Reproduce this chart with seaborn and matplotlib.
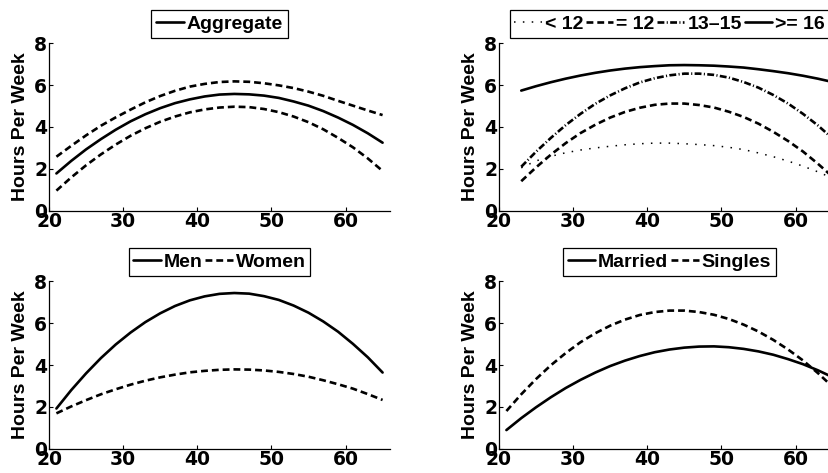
import matplotlib
matplotlib.use("Agg")
import matplotlib.pyplot as plt
from matplotlib.lines import Line2D
import pandas as pd
import seaborn as sns

# ---------------- data ----------------
ages = [21, 23, 25, 27, 29, 31, 33, 35, 37, 39, 41, 43,
        45, 47, 49, 51, 53, 55, 57, 59, 61, 63, 65]
ages_edu = [23, 25, 27, 29, 31, 33, 35, 37, 39, 41, 43,
            45, 47, 49, 51, 53, 55, 57, 59, 61, 63, 65]

aggregate = [1.78, 2.38, 2.93, 3.42, 3.87, 4.27, 4.61, 4.90, 5.14, 5.32, 5.46, 5.55,
             5.58, 5.56, 5.50, 5.39, 5.22, 5.02, 4.76, 4.45, 4.10, 3.70, 3.25]
aggregate_hi = [2.58, 3.10, 3.60, 4.06, 4.46, 4.83, 5.18, 5.48, 5.73, 5.93, 6.06, 6.15,
                6.18, 6.16, 6.09, 5.99, 5.86, 5.69, 5.49, 5.25, 5.02, 4.79, 4.57]
aggregate_lo = [0.96, 1.59, 2.17, 2.69, 3.16, 3.58, 3.94, 4.25, 4.50, 4.70, 4.84, 4.93,
                4.97, 4.95, 4.86, 4.71, 4.50, 4.23, 3.89, 3.48, 3.03, 2.50, 1.90]

edu_lt12 = [2.05, 2.38, 2.60, 2.77, 2.90, 3.00, 3.08, 3.15, 3.20, 3.23, 3.23,
            3.20, 3.16, 3.11, 3.03, 2.92, 2.76, 2.58, 2.37, 2.13, 1.86, 1.55]
edu_eq12 = [1.41, 2.07, 2.68, 3.23, 3.71, 4.11, 4.45, 4.72, 4.92, 5.06, 5.12,
            5.12, 5.05, 4.93, 4.73, 4.48, 4.16, 3.77, 3.33, 2.83, 2.25, 1.62]
edu_13_15 = [2.10, 2.82, 3.48, 4.09, 4.63, 5.11, 5.51, 5.85, 6.13, 6.33, 6.47,
             6.55, 6.55, 6.49, 6.36, 6.15, 5.88, 5.53, 5.12, 4.63, 4.08, 3.45]
edu_ge16 = [5.74, 5.95, 6.14, 6.31, 6.46, 6.59, 6.70, 6.79, 6.86, 6.91, 6.95,
            6.96, 6.95, 6.93, 6.89, 6.84, 6.76, 6.67, 6.57, 6.45, 6.31, 6.15]

men = [1.92, 2.80, 3.60, 4.33, 4.98, 5.55, 6.05, 6.47, 6.82, 7.09, 7.28, 7.40,
       7.44, 7.41, 7.29, 7.11, 6.84, 6.50, 6.08, 5.59, 5.01, 4.37, 3.64]
women = [1.69, 2.02, 2.32, 2.60, 2.84, 3.06, 3.25, 3.41, 3.54, 3.65, 3.72, 3.77,
         3.79, 3.78, 3.74, 3.67, 3.57, 3.44, 3.27, 3.08, 2.87, 2.61, 2.33]

married = [0.89, 1.46, 1.98, 2.46, 2.90, 3.29, 3.64, 3.95, 4.21, 4.43, 4.61, 4.74,
           4.83, 4.88, 4.89, 4.85, 4.77, 4.65, 4.49, 4.28, 4.04, 3.75, 3.42]
singles = [1.80, 2.60, 3.33, 3.99, 4.57, 5.09, 5.52, 5.88, 6.17, 6.39, 6.53, 6.60,
           6.60, 6.53, 6.40, 6.20, 5.93, 5.60, 5.20, 4.74, 4.22, 3.62, 2.96]

x_ticks = [20, 30, 40, 50, 60]
y_ticks = [0, 2, 4, 6, 8]
y_label = "Hours Per Week"

# ---------------- style ----------------
sns.set_theme(style="ticks")
plt.rcParams["font.family"] = ["Liberation Sans", "DejaVu Sans"]
plt.rcParams["font.weight"] = "bold"
plt.rcParams["axes.labelweight"] = "bold"
for key in ["text.color", "axes.labelcolor", "xtick.color", "ytick.color",
            "xtick.labelcolor", "ytick.labelcolor", "axes.edgecolor"]:
    plt.rcParams[key] = "black"
FS = 14
TICK_FONT = {"family": ["DejaVu Sans"], "size": 13.5, "weight": "bold", "color": "black"}

LW = 1.9
SOLID = ""
DASH = (2.6, 1.5)
DOT = (1.0, 4.8)
DASHDOT = (2.6, 0.9, 0.4, 0.9)

fig = plt.figure(figsize=(8.29, 4.73), dpi=100)

W, H = 341 / 829, 167.4 / 473
pos = {
    "tl": [49 / 829, 1 - 210.7 / 473, W, H],
    "tr": [499 / 829, 1 - 210.7 / 473, W, H],
    "bl": [49 / 829, 1 - 448.7 / 473, W, H],
    "br": [499 / 829, 1 - 448.7 / 473, W, H],
}


def long_df(x, series):
    rows = []
    for name, vals in series.items():
        for a, v in zip(x, vals):
            rows.append({"age": a, "hours": v, "group": name})
    return pd.DataFrame(rows)


def style_axes(ax):
    ax.set_xlim(20, 66)
    ax.set_ylim(0, 8)
    ax.set_xticks(x_ticks)
    ax.set_yticks(y_ticks)
    ax.set_xticklabels([str(t) for t in x_ticks], fontdict=TICK_FONT)
    ax.set_yticklabels([str(t) for t in y_ticks], fontdict=TICK_FONT)
    ax.set_xlabel("")
    ax.set_ylabel(y_label, fontsize=FS, fontweight="bold", labelpad=4, color="black")
    for s in ["top", "right"]:
        ax.spines[s].set_visible(False)
    for s in ["left", "bottom"]:
        ax.spines[s].set_linewidth(0.9)
        ax.spines[s].set_color("black")
    ax.tick_params(direction="in", length=3.2, width=0.8, pad=1.2, colors="black")
    ax.set_facecolor("white")


def add_legend(ax, labels, dashes, widths, ncol):
    handles = []
    for lab in labels:
        d = dashes[lab]
        h = Line2D([0], [0], color="black", linewidth=widths[lab])
        if d != "":
            h.set_dashes(d)
        handles.append(h)
    leg = ax.legend(handles, labels, loc="lower center", bbox_to_anchor=(0.5, 1.033),
                    ncol=ncol, frameon=True, fancybox=False, framealpha=1,
                    edgecolor="black", borderpad=0.25, handlelength=1.4,
                    handletextpad=0.15, columnspacing=0.15, borderaxespad=0,
                    prop={"size": FS, "weight": "bold"})
    leg.get_frame().set_linewidth(0.9)
    for t in leg.get_texts():
        t.set_color("black")
    return leg


def draw(ax, x, series, dashes, widths, legend_labels, ncol):
    df = long_df(x, series)
    sns.lineplot(data=df, x="age", y="hours", style="group", size="group",
                 dashes=dashes, sizes=widths, color="black", ax=ax,
                 legend=False, estimator=None, sort=False)
    style_axes(ax)
    add_legend(ax, legend_labels, dashes, widths, ncol)


# Top-left: aggregate with bands
ax1 = fig.add_axes(pos["tl"])
draw(ax1, ages,
     {"Aggregate": aggregate, "upper": aggregate_hi, "lower": aggregate_lo},
     {"Aggregate": SOLID, "upper": DASH, "lower": DASH},
     {"Aggregate": LW, "upper": LW, "lower": LW},
     ["Aggregate"], 1)

# Top-right: education
ax2 = fig.add_axes(pos["tr"])
draw(ax2, ages_edu,
     {"< 12": edu_lt12, "= 12": edu_eq12, "13\u201315": edu_13_15, ">= 16": edu_ge16},
     {"< 12": DOT, "= 12": DASH, "13\u201315": DASHDOT, ">= 16": SOLID},
     {"< 12": 1.1, "= 12": LW, "13\u201315": LW, ">= 16": LW},
     ["< 12", "= 12", "13\u201315", ">= 16"], 4)

# Bottom-left: gender
ax3 = fig.add_axes(pos["bl"])
draw(ax3, ages,
     {"Men": men, "Women": women},
     {"Men": SOLID, "Women": DASH},
     {"Men": LW, "Women": LW},
     ["Men", "Women"], 2)

# Bottom-right: marital status
ax4 = fig.add_axes(pos["br"])
draw(ax4, ages,
     {"Married": married, "Singles": singles},
     {"Married": SOLID, "Singles": DASH},
     {"Married": LW, "Singles": LW},
     ["Married", "Singles"], 2)

fig.patch.set_facecolor("white")
fig.savefig("out.png", dpi=100, facecolor="white")
